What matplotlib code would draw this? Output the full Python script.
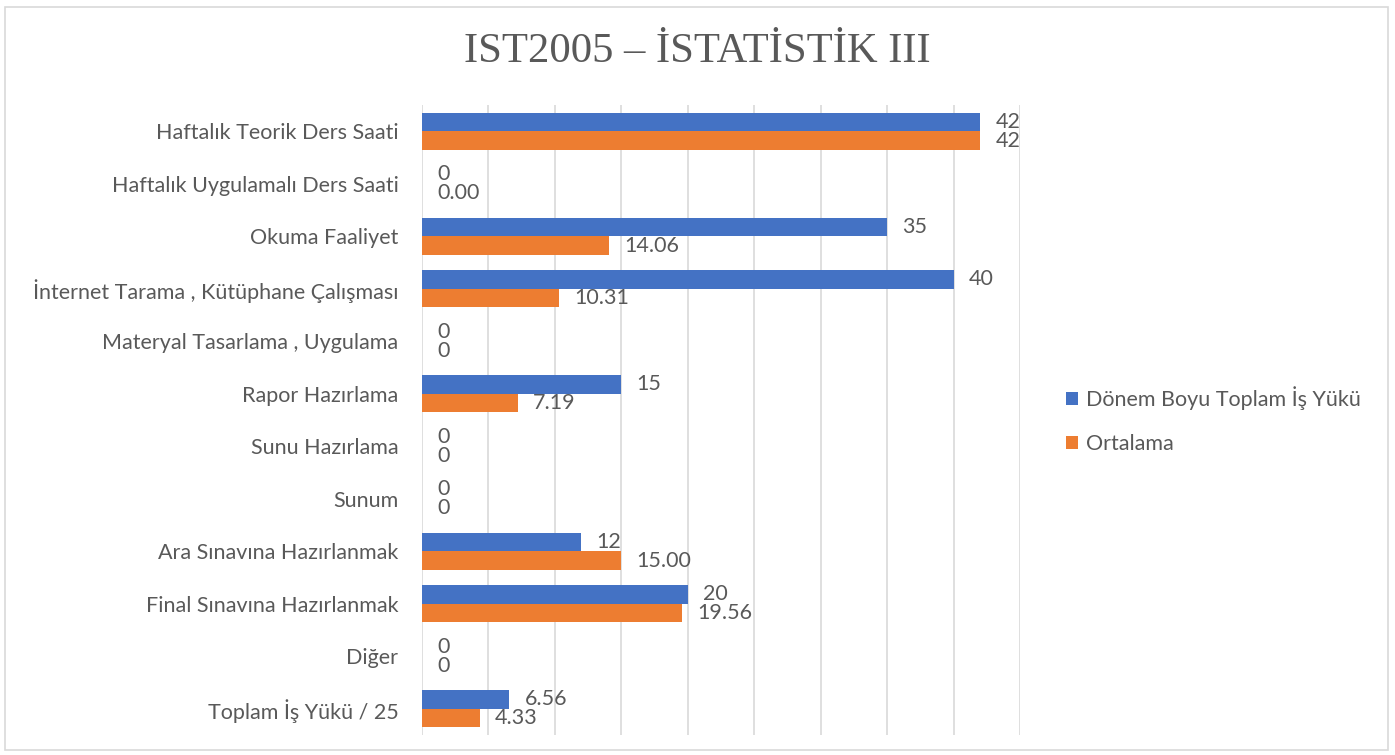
import numpy as np
import matplotlib
matplotlib.use("Agg")
import matplotlib.pyplot as plt
from matplotlib.patches import Rectangle

categories = ['Haftalık Teorik Ders Saati', 'Haftalık Uygulamalı Ders Saati', 'Okuma Faaliyet',
              'İnternet Tarama , Kütüphane Çalışması', 'Materyal Tasarlama , Uygulama',
              'Rapor Hazırlama', 'Sunu Hazırlama', 'Sunum', 'Ara Sınavına Hazırlanmak',
              'Final Sınavına Hazırlanmak', 'Diğer', 'Toplam İş Yükü / 25']
donem = [42, 0, 35, 40, 0, 15, 0, 0, 12, 20, 0, 6.56]
ortalama = [42, 0.00, 14.06, 10.31, 0, 7.19, 0, 0, 15.00, 19.56, 0, 4.33]
donem_labels = ['42', '0', '35', '40', '0', '15', '0', '0', '12', '20', '0', '6.56']
ort_labels = ['42', '0.00', '14.06', '10.31', '0', '7.19', '0', '0', '15.00', '19.56', '0', '4.33']

blue = '#4472C4'
orange = '#ED7D31'
gray = '#595959'
font = ['Lato', 'DejaVu Sans']

fig = plt.figure(figsize=(13.95, 7.55), dpi=100)
ax = fig.add_axes([422 / 1395, 1 - 735 / 755, (1020 - 422) / 1395, (735 - 105) / 755])

y = np.arange(len(categories))
h = 0.355
ax.barh(y - h / 2, donem, height=h, color=blue, label='Dönem Boyu Toplam İş Yükü', zorder=3)
ax.barh(y + h / 2, ortalama, height=h, color=orange, label='Ortalama', zorder=3)

for i in range(len(categories)):
    ax.annotate(donem_labels[i], (donem[i], y[i] - h / 2), xytext=(11, 0), textcoords='offset points',
                va='center', ha='left', fontsize=15.5, color=gray, family=font)
    ax.annotate(ort_labels[i], (ortalama[i], y[i] + h / 2), xytext=(11, 0), textcoords='offset points',
                va='center', ha='left', fontsize=15.5, color=gray, family=font)

ax.set_xlim(0, 45)
ax.set_ylim(len(categories) - 0.5, -0.5)
ax.set_xticks(np.arange(0, 46, 5))
ax.set_xticklabels([])
ax.tick_params(axis='x', length=0)
ax.tick_params(axis='y', length=0, pad=17)
ax.set_yticks(y)
ax.set_yticklabels(categories, fontsize=15.5, color=gray, family=font)
ax.grid(axis='x', color='#D9D9D9', linewidth=1.2, zorder=0)
for s in ax.spines.values():
    s.set_visible(False)

leg = ax.legend(loc='center left', bbox_to_anchor=(1.045, 0.5), frameon=False,
                prop={'family': font, 'size': 15.5}, labelcolor=gray,
                handlelength=0.55, handleheight=0.55, handletextpad=0.35, labelspacing=1.1)

fig.text(0.5, 1 - 52 / 755, 'IST2005 – İSTATİSTİK III', ha='center', va='center',
         fontsize=30.7, color=gray, family='Liberation Serif')

fig.patches.append(Rectangle((5 / 1395, 5 / 755), 1383 / 1395, 743 / 755, transform=fig.transFigure,
                             fill=False, edgecolor='#D9D9D9', linewidth=1.2))

fig.savefig('out.png', dpi=100)
